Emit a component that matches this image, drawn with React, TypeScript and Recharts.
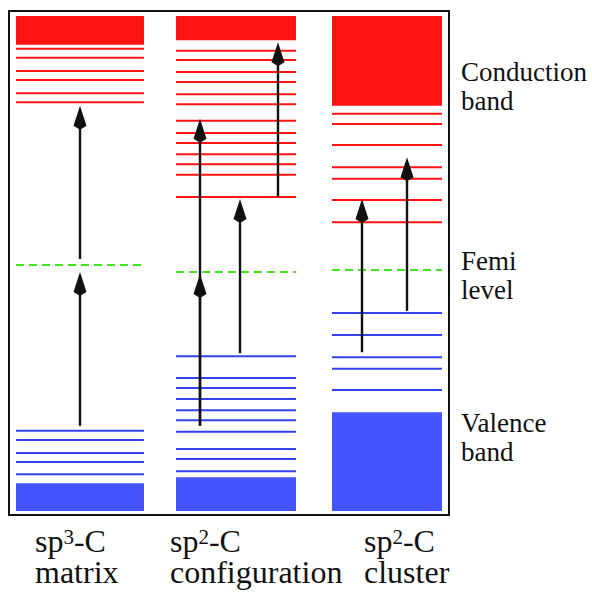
import React from 'react';
import { ComposedChart, XAxis, YAxis, ReferenceLine, ReferenceArea } from 'recharts';

// energy scale: 0 = bottom of frame, 100 = top of frame (arbitrary units)
const BAND_TOP = 99.0;
const BAND_BOTTOM = 0.8;
const CONDUCTION_EDGE = [93.3, 94.2, 81.2];
const VALENCE_EDGE = [6.3, 7.5, 20.4];
const FERMI = [49.6, 48.2, 48.6];

const CB_SP3 = [92.5, 90.7, 88.1, 86.3, 83.7, 81.9];
const CB_CONF = [92.1, 90.3, 87.9, 85.9, 83.5, 81.5, 78.2, 75.8, 73.8, 71.6, 69.6, 67.5, 63.1];
const CB_CLUSTER = [79.6, 77.6, 73.4, 69.0, 66.7, 62.5, 58.1];

const VB_SP3 = [16.7, 14.9, 12.3, 10.5, 8.1];
const VB_CONF = [31.5, 27.2, 25.2, 23.0, 20.8, 18.8, 16.5, 13.1, 11.1, 8.7];
const VB_CLUSTER = [40.1, 35.7, 31.3, 29.0, 24.8];

// transitions: position along the column axis, start energy, end energy
const ARROW_POS = [71, 71, 191, 191, 231, 269, 353, 398];
const ARROW_FROM = [17.7, 50.8, 17.7, 17.7, 32.1, 63.1, 32.3, 40.5];
const ARROW_TO = [48.2, 81.2, 47.8, 78.6, 62.7, 93.8, 62.7, 71.0];

const COLUMN_NAMES = ['matrix', 'configuration', 'cluster'];
const COLUMN_SUP = ['3', '2', '2'];
const COLUMN_TICKS = [26, 161, 355];

const SIDE_LABELS = [['Conduction', 'band'], ['Femi', 'level'], ['Valence', 'band']];
const SIDE_TICKS = [86.1, 48.6, 16.5];

// layout of the three columns on the horizontal axis
const SPAN_LEFT = [7, 167, 323];
const SPAN_RIGHT = [135, 287, 433];

const CB_LEVELS = [CB_SP3, CB_CONF, CB_CLUSTER];
const VB_LEVELS = [VB_SP3, VB_CONF, VB_CLUSTER];

const RED = '#ff1212';
const BLUE_LINE = '#3442ee';
const BLUE_FILL = '#4455ff';
const GREEN = '#44e622';
const FONT = "Liberation Serif, DejaVu Serif, serif";

const Arrow = (props: any) => {
  const { x1, y1, x2, y2 } = props;
  const len = 20;
  const hw = 6.5;
  const dir = y2 < y1 ? -1 : 1;
  const baseY = y2 - dir * len;
  return (
    <g>
      <line x1={x1} y1={y1} x2={x2} y2={baseY + dir * 4} stroke="#111" strokeWidth={2.4} />
      <path
        d={`M${x2},${y2} L${x2 - hw},${baseY} L${x2},${baseY - dir * 4} L${x2 + hw},${baseY} Z`}
        fill="#111"
      />
    </g>
  );
};

const ColumnTick = (props: any) => {
  const { x, y, payload } = props;
  const i = COLUMN_TICKS.indexOf(payload.value);
  if (i < 0) return null;
  return (
    <g fontFamily={FONT} fill="#111">
      <text x={x} y={y + 37} fontFamily={FONT} fontSize={32} textAnchor="start">
        <tspan>sp</tspan>
        <tspan fontSize={21} dy={-8}>{COLUMN_SUP[i]}</tspan>
        <tspan fontSize={32} dy={8}>-C</tspan>
      </text>
      <text x={x} y={y + 68} fontFamily={FONT} fontSize={32} textAnchor="start">
        {COLUMN_NAMES[i]}
      </text>
    </g>
  );
};

const SideTick = (props: any) => {
  const { x, y, payload } = props;
  const i = SIDE_TICKS.indexOf(payload.value);
  if (i < 0) return null;
  return (
    <g fontFamily={FONT} fill="#111">
      <text x={x + 12} y={y} fontFamily={FONT} fontSize={27} textAnchor="start">
        {SIDE_LABELS[i][0]}
      </text>
      <text x={x + 12} y={y + 29} fontFamily={FONT} fontSize={27} textAnchor="start">
        {SIDE_LABELS[i][1]}
      </text>
    </g>
  );
};

const App: React.FC = () => {
  return (
    <div style={{ position: 'absolute', left: 0, top: 0, width: 592, height: 594, background: '#fff', fontFamily: FONT }}>
      <ComposedChart width={592} height={594} data={[]} margin={{ top: 11, right: 0, left: 9, bottom: 0 }}>
        <XAxis
          type="number"
          dataKey="x"
          domain={[0, 440]}
          ticks={COLUMN_TICKS}
          tick={<ColumnTick />}
          tickLine={false}
          axisLine={false}
          tickSize={0}
          tickMargin={0}
          height={79}
          interval={0}
          allowDataOverflow
        />
        <YAxis yAxisId="e" type="number" domain={[0, 100]} hide allowDataOverflow />
        <YAxis
          yAxisId="side"
          orientation="right"
          type="number"
          domain={[0, 100]}
          ticks={SIDE_TICKS}
          tick={<SideTick />}
          tickLine={false}
          axisLine={false}
          tickSize={0}
          tickMargin={0}
          width={143}
          interval={0}
          allowDataOverflow
        />

        {/* continuum bands */}
        {[0, 1, 2].map((c) => (
          <ReferenceArea
            key={`cb${c}`}
            yAxisId="e"
            x1={SPAN_LEFT[c]}
            x2={SPAN_RIGHT[c]}
            y1={CONDUCTION_EDGE[c]}
            y2={BAND_TOP}
            fill={RED}
            fillOpacity={1}
            stroke="none"
          />
        ))}
        {[0, 1, 2].map((c) => (
          <ReferenceArea
            key={`vb${c}`}
            yAxisId="e"
            x1={SPAN_LEFT[c]}
            x2={SPAN_RIGHT[c]}
            y1={BAND_BOTTOM}
            y2={VALENCE_EDGE[c]}
            fill={BLUE_FILL}
            fillOpacity={1}
            stroke="none"
          />
        ))}

        {/* discrete levels */}
        {CB_LEVELS.map((levels, c) =>
          levels.map((e, k) => (
            <ReferenceLine
              key={`cl${c}-${k}`}
              yAxisId="e"
              segment={[{ x: SPAN_LEFT[c], y: e }, { x: SPAN_RIGHT[c], y: e }]}
              stroke={RED}
              strokeWidth={2}
            />
          ))
        )}
        {VB_LEVELS.map((levels, c) =>
          levels.map((e, k) => (
            <ReferenceLine
              key={`vl${c}-${k}`}
              yAxisId="e"
              segment={[{ x: SPAN_LEFT[c], y: e }, { x: SPAN_RIGHT[c], y: e }]}
              stroke={BLUE_LINE}
              strokeWidth={2}
            />
          ))
        )}

        {/* Fermi level */}
        {FERMI.map((e, c) => (
          <ReferenceLine
            key={`f${c}`}
            yAxisId="e"
            segment={[{ x: SPAN_LEFT[c], y: e }, { x: SPAN_RIGHT[c], y: e }]}
            stroke={GREEN}
            strokeWidth={2}
            strokeDasharray="8 5"
          />
        ))}

        {/* transitions */}
        {ARROW_POS.map((p, i) => (
          <ReferenceLine
            key={`a${i}`}
            yAxisId="e"
            segment={[{ x: p, y: ARROW_FROM[i] }, { x: p, y: ARROW_TO[i] }]}
            shape={Arrow}
          />
        ))}

        {/* frame */}
        <ReferenceArea
          yAxisId="e"
          x1={0}
          x2={440}
          y1={0}
          y2={100}
          fill="none"
          stroke="#111"
          strokeWidth={2}
        />
      </ComposedChart>
    </div>
  );
};

export default App;
